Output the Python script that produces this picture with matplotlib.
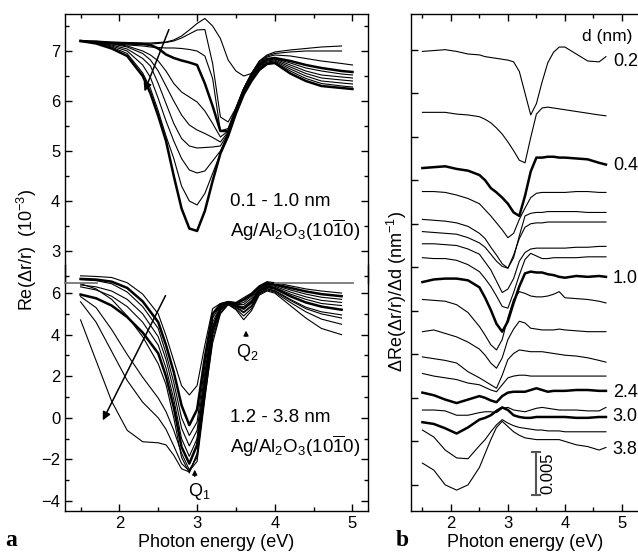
import numpy as np
import matplotlib
matplotlib.use('Agg')
import matplotlib.pyplot as plt
from matplotlib.lines import Line2D
from matplotlib.ticker import MultipleLocator, FixedLocator

plt.rcParams['font.family'] = ['Liberation Sans', 'DejaVu Sans']
plt.rcParams['mathtext.fontset'] = 'custom'
plt.rcParams['mathtext.rm'] = 'Liberation Sans'
plt.rcParams['mathtext.it'] = 'Liberation Sans:italic'
plt.rcParams['mathtext.bf'] = 'Liberation Sans:bold'

# --- panel a, upper block: 0.1 - 1.0 nm, Re(dr/r) in 1e-3 ---
e_up = [1.5, 1.7, 1.9, 2.1, 2.3, 2.4, 2.5, 2.6, 2.7, 2.8, 2.9, 3.0, 3.1, 3.2,
        3.3, 3.4, 3.5, 3.6, 3.7, 3.8, 3.9, 4.0, 4.2, 4.4, 4.6, 4.86, 5.0]
u01 = [7.20, 7.20, 7.18, 7.17, 7.16, 7.16, 7.17, 7.18, 7.22, 7.30, 7.42, 7.55, 7.65, 7.50,
       7.25, 6.82, 6.60, 6.50, 6.55, 6.80, 6.92, 6.98, 7.02, 7.05, 7.08, 7.10, np.nan]
u02 = [7.20, 7.18, 7.16, 7.15, 7.14, 7.14, 7.15, 7.17, 7.20, 7.26, 7.34, 7.42, 7.43, 6.75,
       5.68, 5.58, 5.86, 6.25, 6.55, 6.78, 6.90, 6.95, 6.98, 7.00, 7.00, 7.00, np.nan]
u03 = [7.20, 7.18, 7.15, 7.12, 7.10, 7.08, 7.07, 7.06, 7.06, 7.05, 7.03, 7.00, 6.90, 6.45,
       5.40, 5.45, 5.85, 6.25, 6.55, 6.77, 6.88, 6.92, 6.90, 6.85, 6.80, 6.75, 6.72]
u04 = [7.20, 7.18, 7.16, 7.15, 7.14, 7.12, 7.05, 6.93, 6.86, 6.81, 6.77, 6.72, 6.35, 5.90,
       5.40, 5.40, 5.83, 6.22, 6.52, 6.73, 6.84, 6.86, 6.80, 6.72, 6.66, 6.60, 6.58]
u05 = [7.20, 7.18, 7.15, 7.10, 7.00, 6.92, 6.80, 6.60, 6.35, 6.18, 6.08, 5.98, 5.80, 5.55,
       5.28, 5.40, 5.82, 6.20, 6.50, 6.72, 6.83, 6.85, 6.76, 6.66, 6.60, 6.54, 6.52]
u06 = [7.20, 7.18, 7.14, 7.08, 6.95, 6.82, 6.60, 6.30, 6.00, 5.72, 5.52, 5.42, 5.35, 5.27,
       5.18, 5.38, 5.80, 6.18, 6.48, 6.70, 6.82, 6.84, 6.72, 6.60, 6.52, 6.48, 6.46]
u07 = [7.20, 7.17, 7.12, 7.04, 6.85, 6.70, 6.35, 5.95, 5.55, 5.25, 5.10, 5.06, 5.07, 5.08,
       5.10, 5.36, 5.78, 6.16, 6.46, 6.68, 6.80, 6.82, 6.68, 6.55, 6.46, 6.42, 6.40]
u08 = [7.20, 7.17, 7.10, 7.00, 6.72, 6.47, 6.05, 5.60, 5.20, 4.85, 4.62, 4.56, 4.60, 4.80,
       5.00, 5.35, 5.77, 6.15, 6.44, 6.66, 6.78, 6.80, 6.64, 6.50, 6.40, 6.36, 6.34]
u09 = [7.20, 7.16, 7.08, 6.95, 6.56, 6.25, 5.80, 5.30, 4.85, 4.30, 4.00, 3.92, 4.15, 4.55,
       4.95, 5.33, 5.76, 6.14, 6.42, 6.64, 6.76, 6.78, 6.60, 6.45, 6.35, 6.30, 6.28]
u10 = [7.20, 7.15, 7.05, 6.90, 6.50, 6.15, 5.70, 5.20, 4.50, 3.85, 3.45, 3.40, 3.80, 4.40,
       4.95, 5.30, 5.75, 6.13, 6.40, 6.62, 6.74, 6.76, 6.55, 6.40, 6.30, 6.26, 6.24]

# --- panel a, lower block: 1.2 - 3.8 nm ---
e_lo = [1.5, 1.7, 1.9, 2.1, 2.3, 2.5, 2.6, 2.7, 2.8, 2.9, 3.0, 3.1, 3.2,
        3.3, 3.4, 3.5, 3.6, 3.7, 3.8, 3.9, 4.0, 4.2, 4.4, 4.6, 4.86]
l01 = [6.83, 6.80, 6.75, 6.50, 5.95, 5.00, 3.95, 2.75, 1.55, 1.10, 1.55, 3.50, 5.25,
       5.50, 5.60, 5.55, 5.78, 6.00, 6.35, 6.55, 6.50, 6.35, 6.20, 6.10, 6.00]
l02 = [6.68, 6.65, 6.55, 6.25, 5.60, 4.60, 3.50, 2.20, 0.60, -0.35, 0.40, 2.90, 5.00,
       5.45, 5.55, 5.50, 5.68, 5.93, 6.30, 6.48, 6.42, 6.25, 6.08, 5.95, 5.85]
l03 = [6.65, 6.60, 6.45, 6.05, 5.35, 4.30, 3.10, 1.70, 0.00, -0.85, -0.20, 2.50, 4.80,
       5.40, 5.50, 5.45, 5.55, 5.85, 6.25, 6.42, 6.38, 6.15, 5.95, 5.80, 5.70]
l04 = [6.39, 6.30, 6.10, 5.70, 5.00, 3.90, 2.80, 1.30, -0.50, -1.35, -0.60, 2.20, 4.60,
       5.35, 5.50, 5.45, 5.45, 5.75, 6.20, 6.38, 6.33, 6.05, 5.82, 5.65, 5.55]
l05 = [6.30, 6.15, 5.85, 5.35, 4.60, 3.50, 2.40, 0.90, -1.00, -1.85, -1.00, 1.90, 4.40,
       5.30, 5.50, 5.40, 5.35, 5.65, 6.15, 6.35, 6.28, 5.95, 5.70, 5.50, 5.40]
l06 = [5.93, 5.75, 5.40, 4.85, 4.10, 3.10, 2.00, 0.50, -1.40, -2.20, -1.30, 1.70, 4.30,
       5.25, 5.50, 5.40, 5.25, 5.55, 6.10, 6.30, 6.22, 5.85, 5.55, 5.35, 5.20]
l07 = [6.45, 6.20, 5.70, 4.90, 3.90, 2.60, 1.60, 0.00, -1.90, -2.65, -1.70, 1.40, 4.10,
       5.20, 5.50, 5.35, 5.10, 5.40, 6.00, 6.22, 6.12, 5.70, 5.32, 5.10, 4.95]
l08 = [5.83, 5.30, 4.25, 3.05, 1.95, 0.95, 0.30, -0.60, -1.70, -2.50, -1.90, 1.20, 4.00,
       5.15, 5.45, 5.30, 5.05, 5.35, 6.00, 6.20, 6.10, 5.65, 5.25, 5.00, 4.80]
l09 = [5.58, 4.60, 3.20, 1.80, 0.75, 0.00, -0.55, -1.35, -2.20, -2.55, -2.10, 0.90, 3.80,
       5.05, 5.45, 5.25, 4.90, 5.25, 5.95, 6.15, 6.05, 5.55, 5.10, 4.75, 4.50]
l10 = [4.71, 2.75, 0.80, -0.60, -1.15, -1.20, -1.30, -1.80, -2.45, -2.60, -1.80, 1.00, 3.60,
       5.00, 5.45, 5.20, 4.72, 5.15, 5.90, 6.10, 6.00, 5.40, 4.80, 4.30, 4.00]

# --- panel b: dRe(dr/r)/dd, offset curves, units of 1e-3 nm^-1 ---
e_b = [1.5, 1.7, 1.9, 2.1, 2.3, 2.5, 2.6, 2.7, 2.8, 2.9, 3.0, 3.1, 3.2,
       3.3, 3.4, 3.5, 3.6, 3.7, 3.8, 3.9, 4.0, 4.2, 4.4, 4.6, 4.72]
b01 = [49.8, 49.9, 50.0, 49.8, 49.5, 49.4, 49.2, 49.1, 49.0, 48.9, 48.8, 48.6, 47.5,
       45.0, 42.5, 43.8, 46.3, 48.5, 49.7, 50.3, 50.3, 49.5, 48.7, 48.6, 49.2]
b02 = [42.8, 42.8, 42.8, 42.6, 42.5, 42.3, 42.0, 41.6, 41.0, 40.3, 39.4, 38.4, 37.3,
       37.0, 39.9, 42.6, 43.3, 43.4, 43.3, 43.2, 43.1, 42.9, 42.7, 42.5, 42.4]
b03 = [36.4, 36.5, 36.6, 36.3, 36.1, 35.6, 35.0, 34.1, 33.6, 33.0, 32.3, 31.3, 30.9,
       33.2, 36.0, 37.6, 37.6, 37.7, 37.7, 37.6, 37.6, 37.5, 37.4, 37.0, 36.8]
b04 = [33.7, 33.7, 33.6, 33.3, 32.9, 32.3, 31.6, 30.9, 30.1, 29.3, 28.4, 28.9, 30.5,
       31.8, 33.0, 33.5, 33.6, 33.6, 33.6, 33.6, 33.6, 33.7, 33.7, 33.6, 33.6]
b05 = [30.5, 30.4, 30.3, 30.1, 29.7, 28.9, 28.3, 27.3, 26.4, 25.4, 24.9, 26.1, 28.6,
       30.9, 31.2, 31.3, 31.3, 31.4, 31.4, 31.4, 31.4, 31.4, 31.3, 31.3, 31.3]
b06 = [29.1, 29.0, 28.9, 28.8, 28.4, 27.8, 27.3, 26.5, 25.7, 25.1, 24.9, 26.4, 28.3,
       29.6, 30.0, 30.1, 30.1, 30.2, 30.2, 30.2, 30.2, 30.2, 30.2, 30.2, 30.2]
b07 = [27.7, 27.7, 27.6, 27.5, 27.1, 26.5, 25.6, 24.7, 23.4, 22.1, 22.5, 23.7, 25.7,
       26.7, 27.1, 27.2, 27.2, 27.2, 27.2, 27.2, 27.2, 27.3, 27.3, 27.4, 27.4]
b08 = [26.1, 26.0, 26.0, 25.8, 25.3, 24.5, 23.7, 22.8, 21.7, 20.5, 20.3, 22.1, 24.1,
       25.9, 26.6, 26.3, 26.0, 26.0, 26.1, 26.1, 26.1, 26.1, 26.2, 26.2, 26.2]
b09 = [23.3, 23.6, 23.7, 23.7, 23.5, 22.7, 21.5, 20.1, 18.5, 17.6, 18.8, 20.9, 22.8,
       24.3, 24.5, 24.4, 24.4, 24.2, 24.1, 23.9, 23.8, 24.0, 23.9, 24.0, 23.9]
b10 = [21.3, 21.2, 21.1, 20.7, 19.8, 18.2, 17.2, 16.1, 15.5, 16.7, 19.2, 21.3, 22.2,
       22.0, 21.7, 21.6, 21.6, 21.7, 21.9, 22.2, 21.5, 21.4, 21.3, 21.1, 20.9]
b11 = [17.6, 17.8, 17.4, 17.0, 16.4, 15.6, 14.9, 14.0, 13.4, 14.6, 16.7, 17.9, 18.8,
       18.6, 18.0, 17.9, 17.8, 17.8, 17.8, 17.9, 17.8, 17.7, 17.6, 17.6, 17.6]
b12 = [14.7, 14.5, 14.3, 14.0, 13.0, 12.3, 11.9, 11.5, 11.1, 12.6, 14.4, 15.1, 15.5,
       15.4, 15.3, 15.3, 15.3, 15.2, 15.1, 15.0, 14.9, 14.8, 14.6, 14.3, 14.1]
b13 = [12.8, 12.5, 12.3, 12.1, 11.7, 11.5, 11.2, 10.9, 10.7, 11.5, 12.3, 12.5, 12.6,
       12.6, 12.5, 12.5, 12.5, 12.5, 12.5, 12.5, 12.5, 12.5, 12.5, 12.5, 12.5]
b14 = [10.6, 10.3, 9.8, 9.4, 9.8, 10.2, 10.0, 9.7, 9.5, 10.2, 10.6, 10.7, 10.7,
       10.7, 10.9, 11.1, 10.9, 10.7, 10.8, 10.8, 10.8, 10.9, 10.9, 10.8, 10.8]
b15 = [8.6, 8.6, 8.5, 8.0, 8.0, 8.3, 8.4, 8.4, 8.3, 8.8, 8.9, 8.6, 8.5,
       8.4, 8.6, 8.8, 8.9, 8.8, 8.7, 8.6, 8.6, 8.6, 8.5, 8.5, 8.9]
b16 = [7.2, 7.0, 6.5, 5.9, 6.6, 7.5, 7.7, 8.0, 8.5, 8.9, 8.6, 8.0, 7.8,
       7.7, 7.7, 7.8, 7.8, 7.8, 7.8, 7.8, 7.8, 7.7, 7.7, 7.8, 7.8]
b17 = [6.3, 5.5, 4.0, 3.1, 3.0, 4.5, 5.2, 6.1, 6.9, 7.5, 7.1, 6.8, 6.6,
       6.5, 6.4, 6.3, 6.3, 6.2, 6.2, 6.2, 6.1, 6.1, 6.1, 6.1, 6.1]
b18 = [2.5, 1.7, 0.0, -0.6, 0.0, 2.0, 3.6, 5.2, 6.6, 7.3, 6.7, 6.1, 5.7,
       5.4, 5.3, 5.2, 5.2, 5.2, 5.2, 5.2, 5.0, 4.6, 4.4, 4.0, 4.3]

upper = [u01, u02, u03, u04, u05, u06, u07, u08, u09, u10]
upper_thick = [u04, u10]
lower = [l01, l02, l03, l04, l05, l06, l07, l08, l09, l10]
lower_thick = [l02, l06]
panel_b = [b01, b02, b03, b04, b05, b06, b07, b08, b09, b10,
           b11, b12, b13, b14, b15, b16, b17, b18]
b_thick = [b03, b09, b14, b16]
d_labels = ['0.2', '0.4', '1.0', '2.4', '3.0', '3.8']
d_label_y = [48.6, 36.7, 23.7, 10.6, 7.8, 4.1]

THIN, THICK = 0.8, 1.8
FS = 12

fig = plt.figure(figsize=(6.38, 5.55), dpi=100)
ax_up = fig.add_axes([0.1019, 0.4901, 0.4749, 0.4847])
# lower block reaches a bit above the break so the curves starting near 6.8 are not cut
ax_lo = fig.add_axes([0.1019, 0.0793, 0.4749, 0.4432])
ax_b = fig.add_axes([0.6442, 0.0793, 0.3574, 0.8955])
for ax in (ax_up, ax_lo):
    ax.set_facecolor('none')


def style(ax):
    for s in ax.spines.values():
        s.set_linewidth(1.0)
    ax.tick_params(which='both', direction='in', labelsize=FS, width=1.0)
    ax.tick_params(which='major', length=5)
    ax.tick_params(which='minor', length=3)
    ax.xaxis.set_major_locator(MultipleLocator(1))
    ax.xaxis.set_minor_locator(MultipleLocator(0.5))


# upper block
for c in upper:
    lw = THICK if any(c is t for t in upper_thick) else THIN
    ax_up.plot(e_up, c, color='black', lw=lw)
style(ax_up)
ax_up.set_xlim(1.3, 5.2)
ax_up.set_ylim(2.36, 7.74)
ax_up.spines['bottom'].set_visible(False)
ax_up.yaxis.set_major_locator(MultipleLocator(1))
ax_up.yaxis.set_minor_locator(MultipleLocator(0.5))
ax_up.tick_params(axis='x', which='both', bottom=False, top=True, labelbottom=False)
ax_up.tick_params(axis='y', which='both', left=True, right=True)
ax_up.annotate('', xy=(2.31, 6.14), xytext=(2.65, 7.48),
               arrowprops=dict(arrowstyle='-|>', color='black', lw=1.1,
                               mutation_scale=12))
ax_up.text(3.42, 3.98, '0.1 - 1.0 nm', fontsize=13.5, va='center', ha='left')
ax_up.text(3.42, 3.42, r'Ag/Al$_2$O$_3$(10$\overline{1}$0)', fontsize=13.5,
           va='center', ha='left')

# break marks between the two blocks (figure fractions)
fig.add_artist(Line2D([0.1019, 0.152], [0.4901, 0.4901], color='#777777', lw=1.3))
fig.add_artist(Line2D([0.431, 0.553], [0.4901, 0.4901], color='#777777', lw=1.3))

# lower block
for c in lower:
    lw = THICK if any(c is t for t in lower_thick) else THIN
    ax_lo.plot(e_lo, c, color='black', lw=lw)
style(ax_lo)
ax_lo.set_xlim(1.3, 5.2)
ax_lo.set_ylim(-4.48, 7.35)
ax_lo.spines['top'].set_visible(False)
ax_lo.yaxis.set_major_locator(FixedLocator([-4, -2, 0, 2, 4, 6]))
ax_lo.yaxis.set_minor_locator(FixedLocator([-3, -1, 1, 3, 5]))
ax_lo.tick_params(axis='x', which='both', bottom=True, top=False)
ax_lo.tick_params(axis='y', which='both', left=True, right=True)
ax_lo.annotate('', xy=(1.77, -0.24), xytext=(2.61, 6.0),
               arrowprops=dict(arrowstyle='-|>', color='black', lw=1.1,
                               mutation_scale=12))
ax_lo.annotate('', xy=(2.97, -2.36), xytext=(2.97, -2.95),
               arrowprops=dict(arrowstyle='-|>', color='black', lw=1.0,
                               mutation_scale=7))
ax_lo.annotate('', xy=(3.63, 4.33), xytext=(3.63, 3.8),
               arrowprops=dict(arrowstyle='-|>', color='black', lw=1.0,
                               mutation_scale=7))
ax_lo.text(3.03, -3.55, r'Q$_1$', fontsize=13, ha='center', va='center')
ax_lo.text(3.65, 3.15, r'Q$_2$', fontsize=13, ha='center', va='center')
ax_lo.text(3.42, 0.0, '1.2 - 3.8 nm', fontsize=13.5, va='center', ha='left')
ax_lo.text(3.42, -1.35, r'Ag/Al$_2$O$_3$(10$\overline{1}$0)', fontsize=13.5,
           va='center', ha='left')
ax_lo.set_xlabel('Photon energy (eV)', fontsize=13, labelpad=2)

fig.text(0.042, 0.55, r'Re($\Delta$r/r)  (10$^{-3}$)', rotation=90,
         fontsize=13, ha='center', va='center')

# panel b
for c in panel_b:
    lw = THICK if any(c is t for t in b_thick) else THIN
    ax_b.plot(e_b, c, color='black', lw=lw)
style(ax_b)
ax_b.set_xlim(1.3, 5.3)
ax_b.set_ylim(-3.0, 54.1)
ax_b.yaxis.set_major_locator(MultipleLocator(5))
ax_b.tick_params(axis='y', which='both', left=True, right=False, labelleft=False)
ax_b.tick_params(axis='x', which='both', bottom=True, top=True)
ax_b.set_xlabel('Photon energy (eV)', fontsize=13, labelpad=2)
for lab, yv in zip(d_labels, d_label_y):
    ax_b.text(4.84, yv, lab, fontsize=13, ha='left', va='center')
ax_b.text(4.75, 51.5, 'd (nm)', fontsize=12.5, ha='center', va='center')

# scale bar 0.005
bar_x, bar_lo, bar_hi = 3.49, -1.2, 3.8
ax_b.plot([bar_x, bar_x], [bar_lo, bar_hi], color='#555555', lw=1.5)
ax_b.plot([bar_x - 0.07, bar_x + 0.07], [bar_lo, bar_lo], color='#555555', lw=1.5)
ax_b.plot([bar_x - 0.07, bar_x + 0.07], [bar_hi, bar_hi], color='#555555', lw=1.5)
ax_b.text(3.70, 1.3, '0.005', rotation=90, fontsize=12, ha='center', va='center')

fig.text(0.622, 0.474, r'$\Delta$Re($\Delta$r/r)/$\Delta$d (nm$^{-1}$)', rotation=90,
         fontsize=13, ha='center', va='center')

fig.text(0.018, 0.008, 'a', fontsize=17, fontweight='bold', family='Liberation Serif',
         ha='center', va='bottom')
fig.text(0.630, 0.008, 'b', fontsize=17, fontweight='bold', family='Liberation Serif',
         ha='center', va='bottom')

fig.savefig('out.png', dpi=100)
